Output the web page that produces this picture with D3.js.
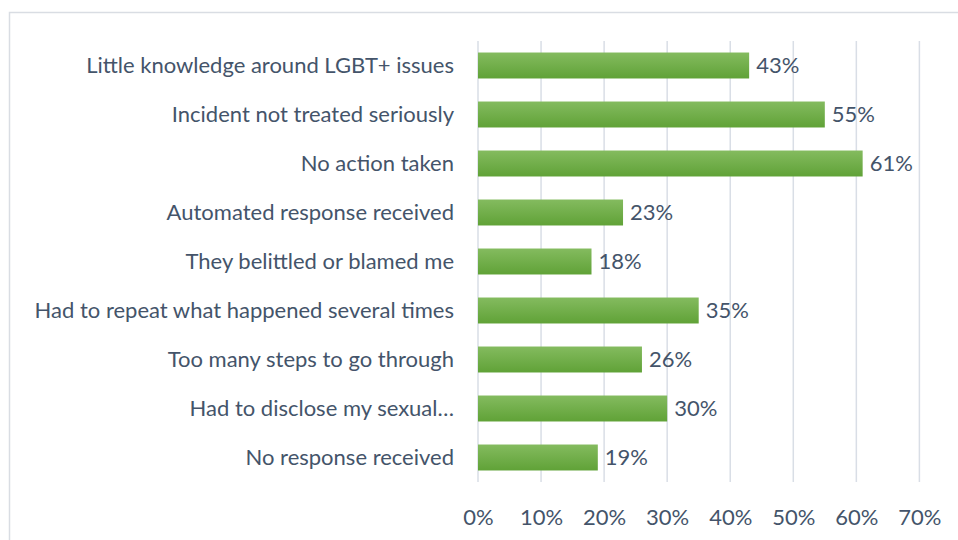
<!DOCTYPE html>
<html>
<head>
<meta charset="utf-8">
<script src="https://cdn.jsdelivr.net/npm/d3@7"></script>
<style>
  body { margin: 0; background: #fff; }
  text { font-family: Lato, "Open Sans", sans-serif; fill: #44546a; }
</style>
</head>
<body>
<div id="chart"></div>
<script>
// data
var categories = [
  "Little knowledge around LGBT+ issues",
  "Incident not treated seriously",
  "No action taken",
  "Automated response received",
  "They belittled or blamed me",
  "Had to repeat what happened several times",
  "Too many steps to go through",
  "Had to disclose my sexual…",
  "No response received"
];
var values = [43, 55, 61, 23, 18, 35, 26, 30, 19];
var tickValues = [0, 10, 20, 30, 40, 50, 60, 70];

var W = 958, H = 540;
var margin = { top: 41, left: 478, right: 38, bottom: 58 };
var fontSize = "22px";

var svg = d3.select("#chart").append("svg")
  .attr("width", W)
  .attr("height", H);

// chart border
svg.append("rect")
  .attr("x", 9.5).attr("y", 12.5)
  .attr("width", W).attr("height", H)
  .attr("fill", "none")
  .attr("stroke", "#d9dde3")
  .attr("stroke-width", 1.5);

var defs = svg.append("defs");
var grad = defs.append("linearGradient")
  .attr("id", "barGrad")
  .attr("x1", 0).attr("y1", 0).attr("x2", 0).attr("y2", 1);
grad.append("stop").attr("offset", "0%").attr("stop-color", "#84bb5f");
grad.append("stop").attr("offset", "100%").attr("stop-color", "#60a237");

var x = d3.scaleLinear()
  .domain([0, 70])
  .range([margin.left, margin.left + 441.4]);

var y = d3.scaleBand()
  .domain(categories)
  .range([margin.top, margin.top + 441])
  .paddingInner(0.47)
  .paddingOuter(0.235);

// gridlines
svg.append("g")
  .selectAll("line")
  .data(tickValues)
  .join("line")
  .attr("x1", function(d) { return x(d); })
  .attr("x2", function(d) { return x(d); })
  .attr("y1", margin.top)
  .attr("y2", margin.top + 441)
  .attr("stroke", "#d9dee6")
  .attr("stroke-width", 1.5);

// x axis
var xAxis = d3.axisBottom(x)
  .tickValues(tickValues)
  .tickFormat(function(d) { return d + "%"; })
  .tickSize(0)
  .tickPadding(0);

svg.append("g")
  .attr("class", "x-axis")
  .attr("transform", "translate(0," + 517 + ")")
  .call(xAxis)
  .call(function(g) { g.select(".domain").remove(); })
  .selectAll("text")
  .attr("font-size", fontSize)
  .attr("dy", "0.35em")
  .style("font-family", "Lato, sans-serif")
  .attr("fill", "#44546a");

// y axis labels
var yAxis = d3.axisLeft(y)
  .tickSize(0)
  .tickPadding(24);

svg.append("g")
  .attr("class", "y-axis")
  .attr("transform", "translate(" + margin.left + ",0)")
  .call(yAxis)
  .call(function(g) { g.select(".domain").remove(); })
  .selectAll("text")
  .attr("font-size", fontSize)
  .style("font-family", "Lato, sans-serif")
  .attr("fill", "#44546a");

// bars
svg.append("g")
  .selectAll("rect")
  .data(values)
  .join("rect")
  .attr("x", x(0))
  .attr("y", function(d, i) { return y(categories[i]); })
  .attr("width", function(d) { return x(d) - x(0); })
  .attr("height", y.bandwidth())
  .attr("fill", "url(#barGrad)");

// value labels
svg.append("g")
  .selectAll("text")
  .data(values)
  .join("text")
  .attr("x", function(d) { return x(d) + 7; })
  .attr("y", function(d, i) { return y(categories[i]) + y.bandwidth() / 2; })
  .attr("dy", "0.35em")
  .attr("font-size", fontSize)
  .text(function(d) { return d + "%"; });
</script>
</body>
</html>
